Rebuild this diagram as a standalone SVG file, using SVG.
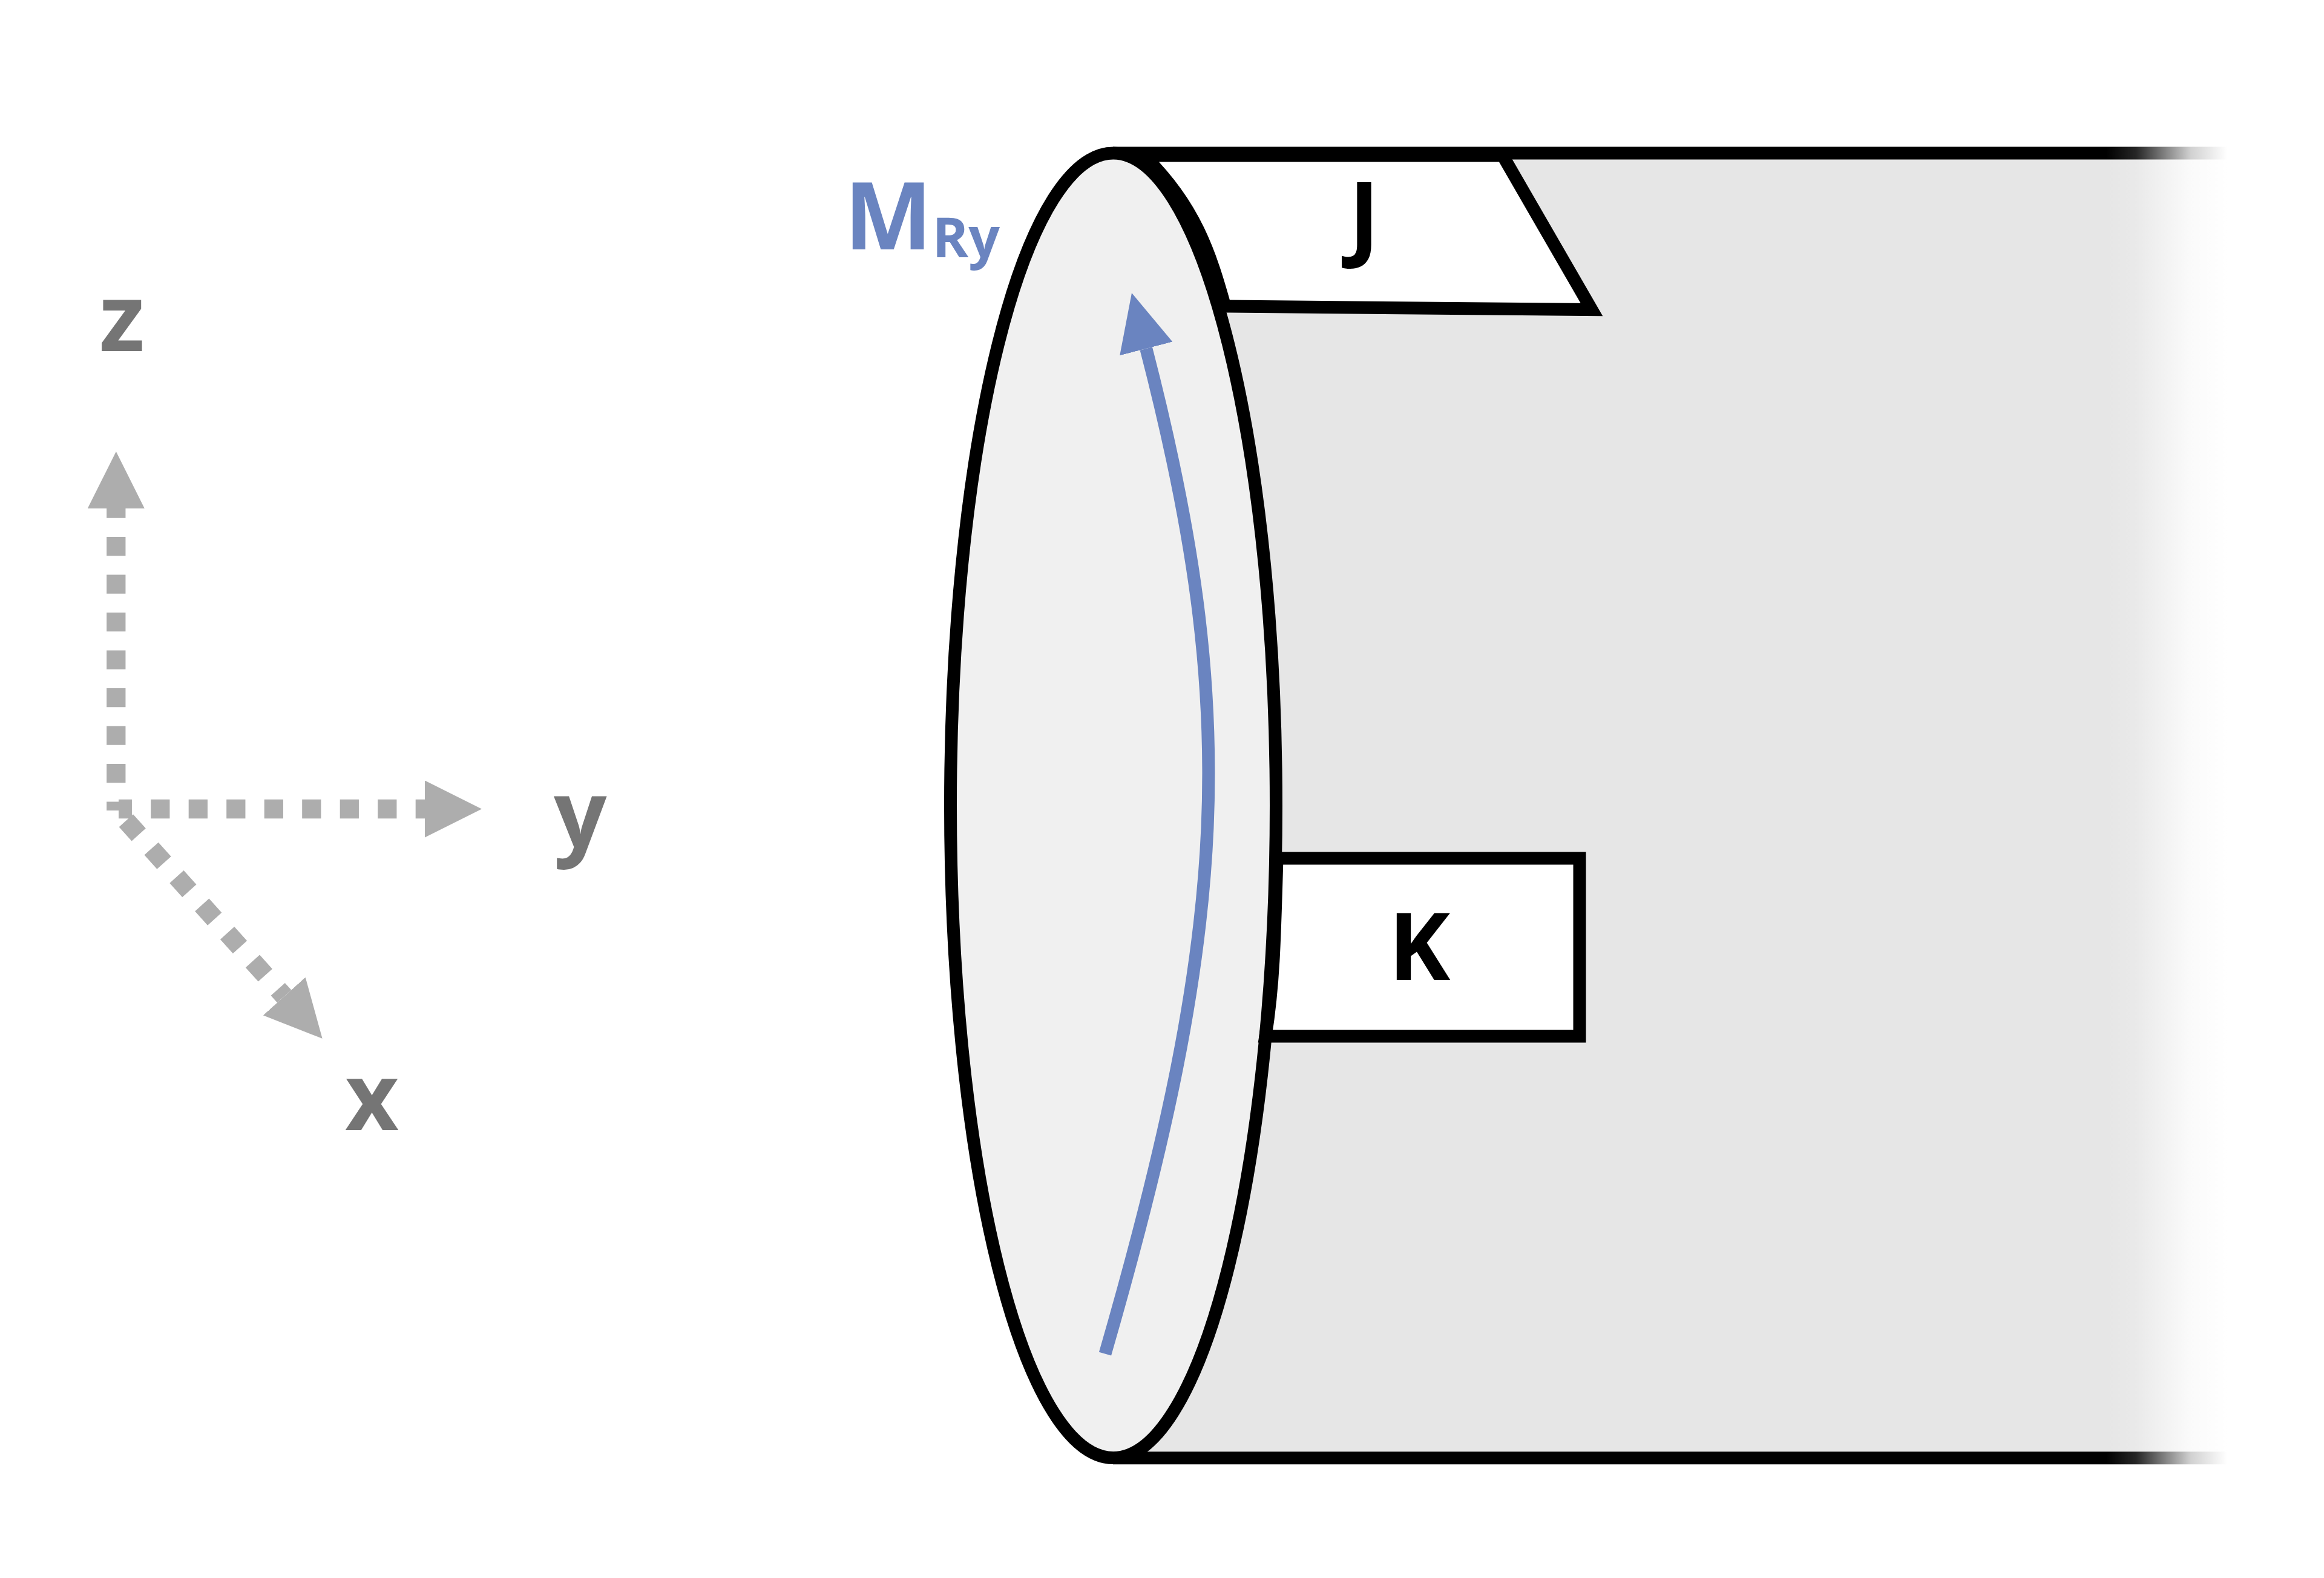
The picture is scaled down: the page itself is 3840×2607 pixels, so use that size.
<svg xmlns="http://www.w3.org/2000/svg" width="3840" height="2607" viewBox="0 0 3840 2607">
<style>
text{font-family:"Open Sans","Noto Sans",sans-serif}
.big{font-size:154px;font-weight:700;fill:#000}
.axl{font-size:154px;font-weight:700;fill:#757575}
.blue{fill:#6a84c0}
.axis{fill:none;stroke:#adadad;stroke-width:31.3;stroke-dasharray:31.25 31.25}
.edge{fill:#fff;stroke:#000;stroke-width:21;stroke-miterlimit:10}
.rail{fill:none;stroke:#000;stroke-width:21}
</style>
<defs>
<linearGradient id="fade" gradientUnits="userSpaceOnUse" x1="3480" y1="0" x2="3680" y2="0">
<stop offset="0" stop-color="#fff" stop-opacity="0"/>
<stop offset="0.25" stop-color="#fff" stop-opacity="0.15"/>
<stop offset="0.5" stop-color="#fff" stop-opacity="0.53"/>
<stop offset="0.7" stop-color="#fff" stop-opacity="0.82"/>
<stop offset="1" stop-color="#fff" stop-opacity="1"/>
</linearGradient>
<marker id="greyHead" markerUnits="userSpaceOnUse" viewBox="0 0 94 94" refX="0" refY="47" markerWidth="94" markerHeight="94" orient="auto"><path d="M0 0L94 47L0 94Z" fill="#adadad"/></marker>
<marker id="blueHead" markerUnits="userSpaceOnUse" viewBox="0 0 95 90" refX="0" refY="45" markerWidth="95" markerHeight="90" orient="auto"><path d="M0 0L95 45L0 90Z" fill="#6a84c0"/></marker>
</defs>
<rect width="3840" height="2607" fill="#fff"/>
<g id="body">
<rect x="1839" y="253" width="1861" height="2156" fill="#e6e6e6"/>
<path class="rail" d="M1839 253H3700M1839 2408.7H3700"/>
<rect x="3480" y="230" width="360" height="2200" fill="url(#fade)"/>
</g>
<g id="node-J">
<path class="edge" d="M1890 257L2483 257L2630 511.5L2024 506C2000 420 1975 340 1890 257Z"/>
<text class="big" x="2254" y="412" text-anchor="middle">J</text>
</g>
<g id="face">
<ellipse cx="1839.5" cy="1330.8" rx="269" ry="1077.8" fill="#f0f0f0" stroke="#000" stroke-width="21"/>
</g>
<g id="node-K">
<path class="edge" d="M2110 1418H2610V1712H2091C2104 1630 2106 1560 2110 1418Z"/>
<text class="big" x="2294" y="1619">K</text>
</g>
<g id="connectors">
<path class="axis" style="stroke-dashoffset:16.75" d="M191.8 1339V840" marker-end="url(#greyHead)"/>
<path class="axis" style="stroke-dashoffset:9.3" d="M196 1336.5H702" marker-end="url(#greyHead)"/>
<path class="axis" d="M208.3 1355.7L469.7 1646" marker-end="url(#greyHead)"/>
<path d="M1826 2236.7C2030 1530 2050 1180 1893.8 576" fill="none" stroke="#6a84c0" stroke-width="21" marker-end="url(#blueHead)"/>
</g>
<g id="labels">
<text class="big blue" x="1395" y="412">M<tspan font-size="91" dy="13">Ry</tspan></text>
<text class="axl" x="164" y="580">z</text>
<text class="axl" x="915" y="1400">y</text>
<text class="axl" x="570" y="1867">x</text>
</g>
</svg>
